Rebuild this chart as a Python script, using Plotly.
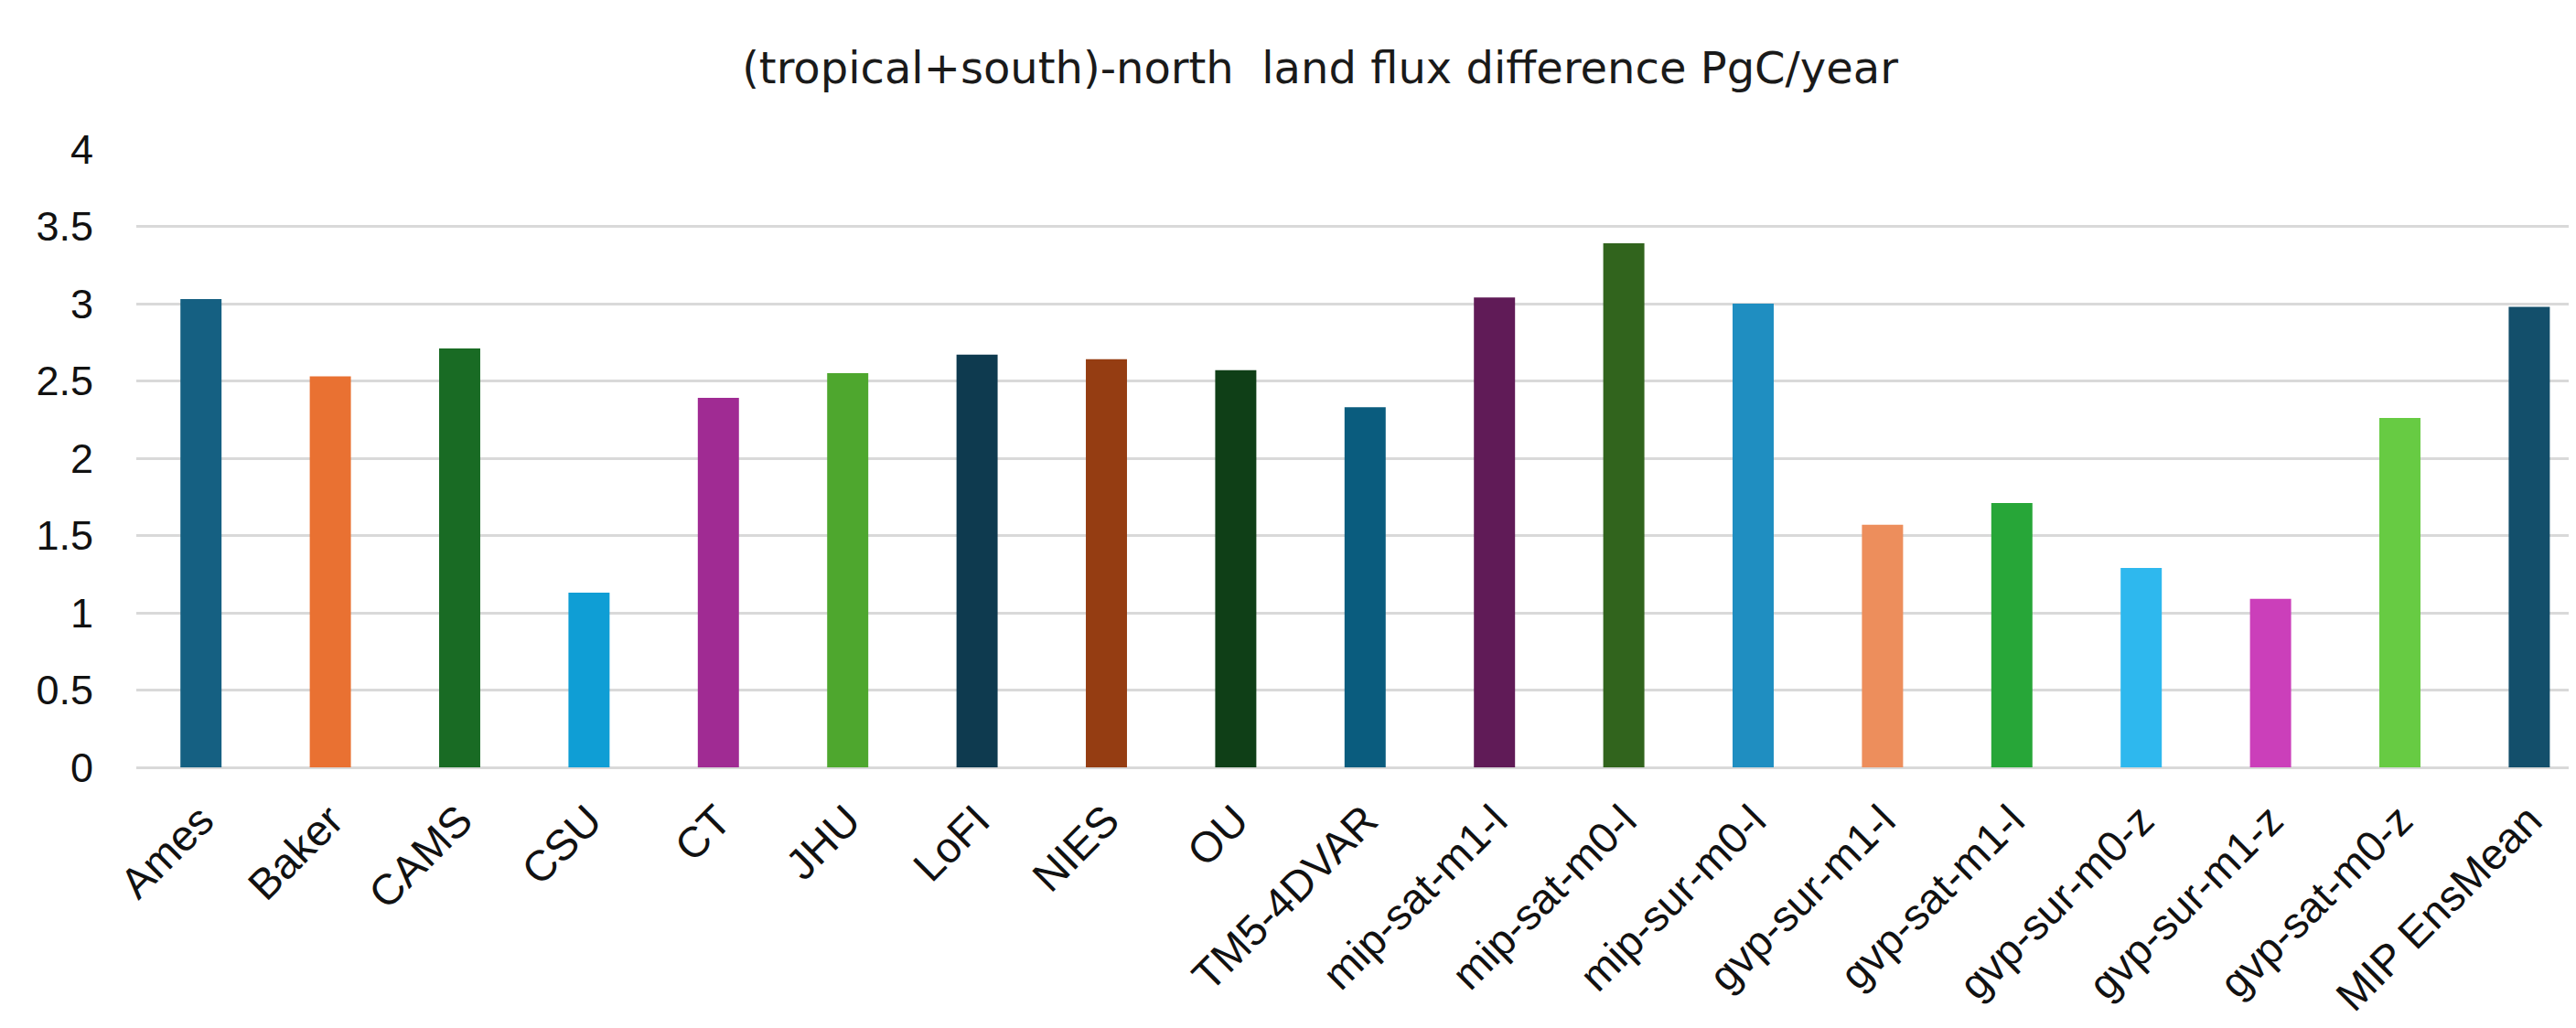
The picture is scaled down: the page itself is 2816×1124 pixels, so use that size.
import plotly.graph_objects as go

categories = ["Ames", "Baker", "CAMS", "CSU", "CT", "JHU", "LoFI", "NIES", "OU",
              "TM5-4DVAR", "mip-sat-m1-l", "mip-sat-m0-l", "mip-sur-m0-l",
              "gvp-sur-m1-l", "gvp-sat-m1-l", "gvp-sur-m0-z", "gvp-sur-m1-z",
              "gvp-sat-m0-z", "MIP EnsMean"]
values = [3.03, 2.53, 2.71, 1.13, 2.39, 2.55, 2.67, 2.64, 2.57,
          2.33, 3.04, 3.39, 3.00, 1.57, 1.71, 1.29, 1.09, 2.26, 2.98]
colors = ["#156082", "#E97132", "#196B24", "#0F9ED5", "#A02B93", "#4EA72E",
          "#0E3A4F", "#953D12", "#0F3F17", "#0A5C7E", "#601B57", "#31641D",
          "#1F8EC1", "#ED8E5C", "#27A638", "#2EB8EE", "#CB3FBA", "#67CB43",
          "#134F6B"]
yticks = [0, 0.5, 1, 1.5, 2, 2.5, 3, 3.5, 4]
ytick_text = ["0", "0.5", "1", "1.5", "2", "2.5", "3", "3.5", "4"]

fig = go.Figure(go.Bar(x=categories, y=values, marker=dict(color=colors, line=dict(width=0)),
                       width=0.318))

font_family = "Liberation Sans, Arial, sans-serif"
fig.update_layout(
    width=2816, height=1124,
    margin=dict(l=141, r=0, t=155, b=293, autoexpand=False),
    paper_bgcolor="white", plot_bgcolor="white",
    showlegend=False,
    title=dict(text="(tropical+south)-north  land flux difference PgC/year",
               x=(800 + 2070) / 2 / 2816, xanchor="center", xref="container",
               y=1 - 66 / 1124, yref="container", yanchor="middle",
               font=dict(family="DejaVu Sans, sans-serif", size=48, color="#1a1a1a")),
    xaxis=dict(showgrid=False, zeroline=False, showline=False, automargin=False,
               tickangle=-45, tickfont=dict(family=font_family, size=47, color="#111111"),
               ticklabelstandoff=20, range=[-0.5, 18.418]),
    yaxis=dict(range=[0, 4], tickvals=yticks, ticktext=ytick_text, automargin=False,
               showgrid=True, gridcolor="#D9D9D9", gridwidth=2.5,
               zeroline=True, zerolinecolor="#D9D9D9", zerolinewidth=2.5,
               showline=False, ticklabelstandoff=46,
               tickfont=dict(family=font_family, size=45, color="#111111")),
)

fig.write_html("out.html")
